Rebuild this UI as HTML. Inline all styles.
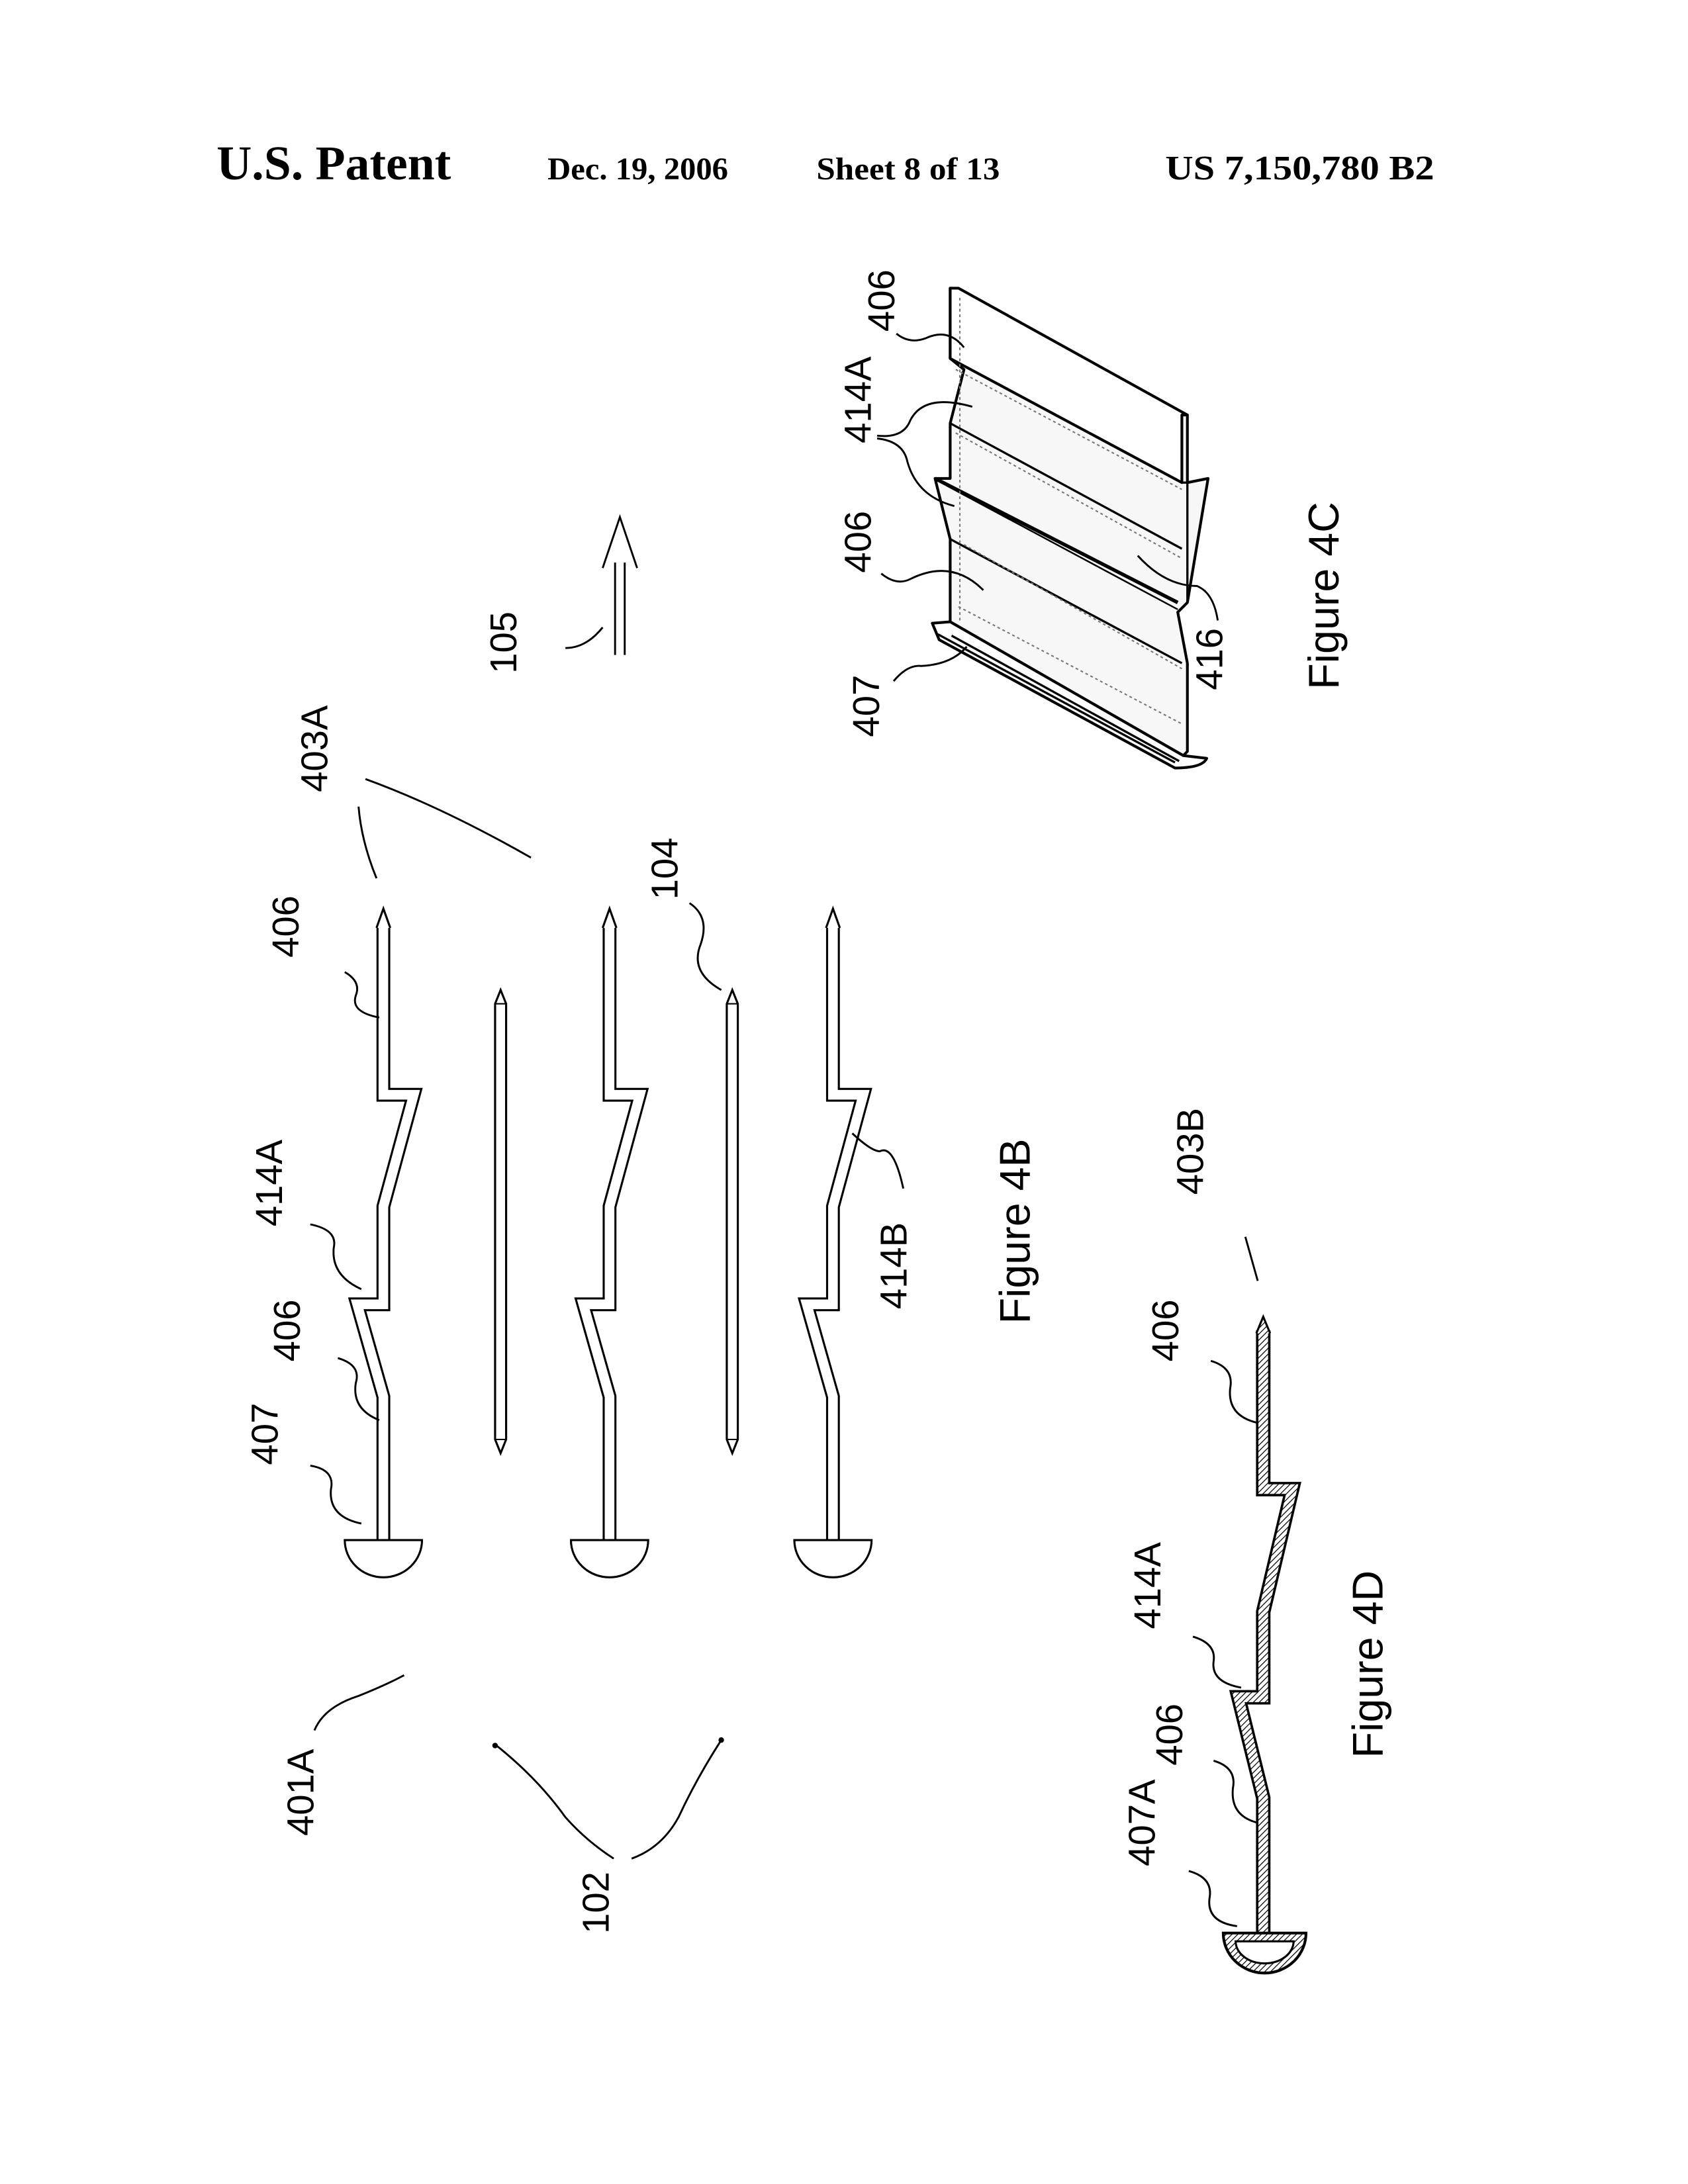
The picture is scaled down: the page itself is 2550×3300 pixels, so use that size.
<!DOCTYPE html>
<html><head><meta charset="utf-8"><style>
html,body{margin:0;padding:0;background:#fff}
svg{display:block}
text{font-family:"Liberation Sans",sans-serif;fill:#000}
.s{font-family:"Liberation Serif",serif;font-weight:bold}
</style></head><body>
<svg width="2550" height="3300" viewBox="0 0 1224 1584" xmlns="http://www.w3.org/2000/svg">
<defs>
<pattern id="h" width="3" height="3" patternUnits="userSpaceOnUse" patternTransform="rotate(45)">
<rect width="3" height="3" fill="#fff"/><line x1="0" y1="0" x2="0" y2="3" stroke="#000" stroke-width="1.2"/>
</pattern>
<g id="slat">
<path d="M278,672 L278,794 L300,794 L278,875 L278,946 L259,946 L278,1013 L278,1118" fill="none" stroke="#000" stroke-width="10" stroke-linejoin="miter"/>
<path d="M278,672 L278,794 L300,794 L278,875 L278,946 L259,946 L278,1013 L278,1118" fill="none" stroke="#fff" stroke-width="7" stroke-linejoin="miter"/>
<path d="M273,673 L278,659 L283,673" fill="#fff" stroke="#000" stroke-width="1.5"/>
<path d="M250,1117 A28,27 0 0 0 306,1117 Z" fill="#fff" stroke="#000" stroke-width="1.5"/>
</g>
<g id="plate">
<path d="M359,728 L363,718 L367,728 L367,1044 L363,1054 L359,1044 Z" fill="#fff" stroke="#000" stroke-width="1.5"/>
<line x1="359" y1="728" x2="367" y2="728" stroke="#000" stroke-width="1"/>
<line x1="359" y1="1044" x2="367" y2="1044" stroke="#000" stroke-width="1"/>
</g>
</defs>
<rect width="1224" height="1584" fill="#fff"/>

<!-- header -->
<text class="s" x="157" y="130" font-size="35" textLength="170" lengthAdjust="spacingAndGlyphs">U.S. Patent</text>
<text class="s" x="397" y="130" font-size="23" textLength="131" lengthAdjust="spacingAndGlyphs">Dec. 19, 2006</text>
<text class="s" x="592" y="130" font-size="23" textLength="133" lengthAdjust="spacingAndGlyphs">Sheet 8 of 13</text>
<text class="s" x="845" y="130" font-size="25" textLength="195" lengthAdjust="spacingAndGlyphs">US 7,150,780 B2</text>

<!-- Figure 4B -->
<use href="#slat"/>
<use href="#slat" transform="translate(164,0)"/>
<use href="#slat" transform="translate(326,0)"/>
<use href="#plate"/>
<use href="#plate" transform="translate(168,0)"/>

<g fill="none" stroke="#000" stroke-width="1.4">
<path d="M250,705 Q262,712 258,722 Q254,734 275,738"/>
<path d="M225,888 Q245,892 242,905 Q240,925 262,935"/>
<path d="M245,985 Q262,990 258,1003 Q255,1022 275,1030"/>
<path d="M225,1063 Q243,1066 240,1080 Q238,1100 262,1105"/>
<path d="M228,1255 Q235,1238 260,1230 Q280,1222 293,1215"/>
<path d="M445,1348 Q425,1335 410,1318 Q390,1290 360,1266"/>
<path d="M458,1348 Q480,1340 492,1318 Q505,1290 523,1262"/>
<path d="M260,585 Q262,610 273,637"/>
<path d="M265,565 Q320,585 385,622"/>
<path d="M500,655 Q515,665 508,685 Q500,705 523,718"/>
<path d="M410,470 Q425,470 437,455"/>
<path d="M618,822 Q632,835 638,835 Q648,830 655,862"/>
<path d="M446,475 L446,408 M453,475 L453,408 M437,412 L449.5,375 L462,412"/>
</g>
<circle cx="359" cy="1266" r="2" fill="#000"/>
<circle cx="523" cy="1262" r="2" fill="#000"/>

<g font-size="27">
<text transform="translate(207,672) rotate(-90)" text-anchor="middle" dominant-baseline="central">406</text>
<text transform="translate(195,858) rotate(-90)" text-anchor="middle" dominant-baseline="central">414A</text>
<text transform="translate(208,965) rotate(-90)" text-anchor="middle" dominant-baseline="central">406</text>
<text transform="translate(192,1040) rotate(-90)" text-anchor="middle" dominant-baseline="central">407</text>
<text transform="translate(218,1300) rotate(-90)" text-anchor="middle" dominant-baseline="central">401A</text>
<text transform="translate(432,1380) rotate(-90)" text-anchor="middle" dominant-baseline="central">102</text>
<text transform="translate(482,630) rotate(-90)" text-anchor="middle" dominant-baseline="central">104</text>
<text transform="translate(228,543) rotate(-90)" text-anchor="middle" dominant-baseline="central">403A</text>
<text transform="translate(365,466) rotate(-90)" text-anchor="middle" dominant-baseline="central">105</text>
<text transform="translate(648,918) rotate(-90)" text-anchor="middle" dominant-baseline="central">414B</text>
<text transform="translate(639,218) rotate(-90)" text-anchor="middle" dominant-baseline="central">406</text>
<text transform="translate(622,290) rotate(-90)" text-anchor="middle" dominant-baseline="central">414A</text>
<text transform="translate(622,393) rotate(-90)" text-anchor="middle" dominant-baseline="central">406</text>
<text transform="translate(628,512) rotate(-90)" text-anchor="middle" dominant-baseline="central">407</text>
<text transform="translate(877,478) rotate(-90)" text-anchor="middle" dominant-baseline="central">416</text>
<text transform="translate(863,835) rotate(-90)" text-anchor="middle" dominant-baseline="central">403B</text>
<text transform="translate(845,965) rotate(-90)" text-anchor="middle" dominant-baseline="central">406</text>
<text transform="translate(832,1150) rotate(-90)" text-anchor="middle" dominant-baseline="central">414A</text>
<text transform="translate(848,1258) rotate(-90)" text-anchor="middle" dominant-baseline="central">406</text>
<text transform="translate(828,1322) rotate(-90)" text-anchor="middle" dominant-baseline="central">407A</text>
</g>
<g font-size="31">
<text transform="translate(736,893) rotate(-90)" text-anchor="middle" dominant-baseline="central">Figure 4B</text>
<text transform="translate(960,432) rotate(-90)" text-anchor="middle" dominant-baseline="central">Figure 4C</text>
<text transform="translate(992,1207) rotate(-90)" text-anchor="middle" dominant-baseline="central">Figure 4D</text>
</g>

<!-- Figure 4C -->
<g stroke="#000" stroke-width="2" fill="#f7f7f7" stroke-linejoin="round">
<path d="M689,209 L689,260 L699,268 L689,307 L689,347 L678,347 L689,391 L689,451 L858,548 L861,545 L861,481 L854,444 L861,437 L876,347 L861,350 L861,301 Z"/>
<path d="M689,209 L695,209 L861,301 L857,301 L857,350 L689,260 Z" fill="#fff"/>
<path d="M676,452 L689,451 L858,548 L875,550 Q872,557 852,557 L681,464 Z" fill="#fff"/>
</g>
<g fill="none" stroke="#000" stroke-width="1.6">
<path d="M689,307 L857,398"/>
<path d="M678,347 L854,437" stroke-width="2.6"/>
<path d="M686,352 L854,442" stroke-width="1.2"/>
<path d="M689,391 L857,481"/>
<path d="M690,461 L855,552"/>
<path d="M680,460 L852,553"/>
<path d="M857,350 L861,350 L861,437"/>
</g>
<g fill="none" stroke="#777" stroke-width="1" stroke-dasharray="2,2">
<path d="M693,268 L857,355"/>
<path d="M693,314 L857,405"/>
<path d="M699,395 L857,485"/>
<path d="M695,440 L857,525"/>
<path d="M696,216 L696,450"/>
</g>
<g fill="none" stroke="#000" stroke-width="1.4">
<path d="M650,242 Q660,250 672,245 Q688,238 699,252"/>
<path d="M636,316 Q655,318 660,305 Q670,285 705,295"/>
<path d="M636,318 Q655,320 658,335 Q665,360 692,367"/>
<path d="M639,416 Q650,425 660,420 Q690,405 713,428"/>
<path d="M648,494 Q658,482 668,483 Q690,482 701,469"/>
<path d="M883,450 Q880,430 868,425 Q845,425 825,403"/>
</g>

<!-- Figure 4D -->
<g transform="translate(0,9)">
<path d="M916,956 L916,1071 L937,1071 L916,1160 L916,1222 L898,1222 L916,1295 L916,1396" fill="none" stroke="#000" stroke-width="10.5" stroke-linejoin="miter"/>
<path d="M916,956 L916,1071 L937,1071 L916,1160 L916,1222 L898,1222 L916,1295 L916,1396" fill="none" stroke="url(#h)" stroke-width="7" stroke-linejoin="miter"/>
<path d="M911,958 L916,946 L921,958" fill="url(#h)" stroke="#000" stroke-width="1.5"/>
<path d="M887,1393 A30,29 0 0 0 947,1393 Z" fill="url(#h)" stroke="#000" stroke-width="2"/>
<path d="M896,1399 A21,16 0 0 0 938,1399 Z" fill="#fff" stroke="#000" stroke-width="1.5"/>
<g fill="none" stroke="#000" stroke-width="1.4">
<path d="M903,888 L912,920"/>
<path d="M878,978 Q895,983 892,998 Q890,1018 912,1023"/>
<path d="M865,1178 Q882,1183 880,1196 Q878,1211 900,1215"/>
<path d="M880,1268 Q897,1273 894,1288 Q892,1308 912,1313"/>
<path d="M862,1348 Q880,1353 877,1368 Q875,1385 897,1388"/>
</g>
</g>
</svg>
</body></html>
